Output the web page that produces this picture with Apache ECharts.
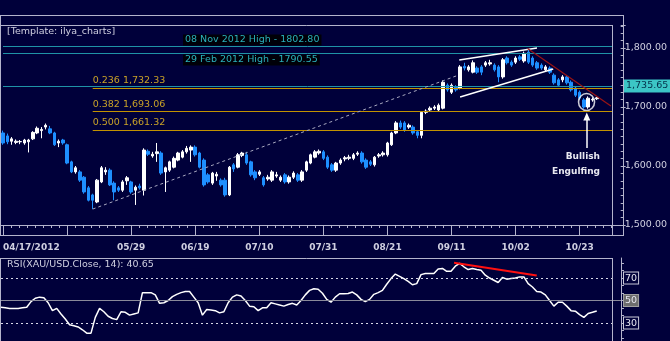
<!DOCTYPE html>
<html><head><meta charset="utf-8">
<script src="https://cdn.jsdelivr.net/npm/echarts@6/dist/echarts.min.js"></script>
<style>html,body{margin:0;padding:0;background:#00003a;overflow:hidden}#c{width:670px;height:341px;}</style>
</head><body><div id="c"></div>
<script>
// ---------- DATA ----------
const opens = [1656,1651,1642,1640,1641,1639,1641,1646,1656,1660,1666,1663,1656,1639,1644,1636,1607,1590,1590,1581,
1563,1551,1539,1573,1590,1593,1571,1563,1559,1575,1573,1559,1566,1559,1625,1617,1621,1622,1590,1593,
1598,1610,1615,1624,1627,1632,1622,1610,1585,1571,1583,1576,1576,1551,1602,1598,1618,1619,1607,1590,
1586,1580,1578,1576,1583,1576,1585,1573,1581,1585,1576,1593,1605,1615,1622,1624,1615,1602,1593,1605,
1612,1613,1613,1620,1622,1610,1607,1602,1617,1619,1619,1636,1656,1673,1673,1666,1666,1658,1652,1691,
1695,1698,1695,1698,1737,1725,1734,1732,1769,1763,1759,1766,1768,1771,1773,1771,1768,1751,1783,1776,
1776,1785,1778,1793,1783,1775,1771,1763,1766,1754,1746,1746,1751,1742,1732,1725,1712,1700,1712,1714];
const closes = [1639,1641,1646,1642,1641.5,1644,1644,1657,1664,1662,1669,1656,1636,1642,1639,1605,1590,1597,1576,1556,
1542,1542,1576,1597,1593,1568,1556,1559,1573,1580,1556,1564,1563,1627,1620,1620,1624,1588,1597,1607,
1613,1622,1624,1630,1632,1619,1598,1568,1573,1588,1586,1568,1551,1598,1595,1619,1622,1605,1585,1580,
1590,1568,1581,1590,1585,1581,1573,1581,1588,1576,1590,1607,1619,1624,1625,1613,1598,1593,1605,1610,
1614,1615,1619,1622,1607,1598,1603,1615,1619,1622,1639,1656,1673,1666,1661,1669,1656,1652,1691,1693,
1698,1700,1703,1742,1729,1737,1729,1768,1766,1768,1775,1759,1759,1775,1775,1763,1751,1780,1775,1771,
1783,1781,1791,1776,1771,1766,1766,1768,1759,1741,1737,1751,1741,1729,1720,1715,1700,1715,1713,1715.5];
const lows = [1636,1637,1636,1637,1637,1636,1623,1644,1654,1647,1662,1654,1634,1632,1636,1603,1588,1587,1573,1553,
1540,1527,1537,1571,1585,1566,1542,1556,1556,1568,1553,1534,1560,1550,1617,1614,1607,1585,1556,1590,
1596,1608,1613,1621,1607,1616,1596,1565,1570,1568,1575,1565,1548,1549,1590,1596,1615,1602,1582,1576,
1583,1565,1575,1573,1580,1573,1570,1570,1578,1573,1573,1590,1603,1613,1619,1610,1595,1590,1590,1602,
1608,1610,1610,1617,1604,1595,1600,1599,1614,1616,1616,1634,1654,1663,1658,1663,1653,1647,1647,1688,
1692,1695,1692,1696,1726,1722,1726,1730,1762,1760,1757,1756,1754,1768,1770,1760,1742,1748,1772,1768,
1773,1778,1775,1773,1768,1763,1763,1760,1756,1738,1734,1742,1738,1726,1717,1712,1697,1697,1709,1712];
const highs = [1660,1655,1649,1645,1644,1646,1646,1659,1667,1666,1672,1668,1658,1645,1646,1638,1609,1600,1593,1583,
1566,1553,1578,1600,1598,1596,1574,1566,1576,1583,1575,1567,1570,1630,1628,1624,1639,1625,1599,1609,
1616,1624,1627,1634,1635,1635,1624,1613,1588,1590,1590,1579,1580,1600,1605,1622,1624,1624,1609,1593,
1593,1583,1585,1593,1590,1584,1588,1584,1591,1588,1593,1609,1621,1627,1628,1627,1618,1605,1607,1613,
1617,1619,1622,1625,1625,1613,1610,1617,1622,1625,1641,1658,1676,1677,1676,1672,1669,1661,1693,1696,
1701,1703,1706,1745,1740,1740,1737,1771,1775,1771,1779,1769,1771,1778,1780,1774,1771,1783,1786,1779,
1786,1788,1794,1797,1786,1778,1774,1771,1769,1757,1749,1754,1754,1745,1735,1728,1715,1718,1716,1717];
const rsi = [44,43.5,43,43,43,43.5,44,49,52,53,52.5,48,41,43,38,33.5,28.5,27.5,26.5,24,
21,21,35,43,40,36,34,33,40,39.5,37,38,39,57,57,57,55,47.5,48,50,
53.5,55.5,57,58,58,53,48,37,42,41.5,41,39,40,48,53,55,54,50,45,44.5,
41,43.5,43.5,48,47,46,45,46.5,47.5,46,50,55,59,60.5,60,56.5,51,48.5,53,56,
56,56.2,57.5,55,51,49,51,55.5,57,59,64.5,69.5,73.5,71.5,69.5,67,64,65,73,74,
74,74,78,78.5,76,76,80.5,83,80,77.5,78.5,77.5,77,72.5,70,68,66,70.5,69,69.5,
70,71,71,65,62,58,57.5,55,50,45,48.5,48.5,45,41,40.5,37.5,35,38.5,39.5,40.65];
const tickLabelIndex = [0,30,45,60,75,90,105,120,135];
const tickLabels = ['04/17/2012','05/29','06/19','07/10','07/31','08/21','09/11','10/02','10/23'];
const highLevels = [1802.80, 1790.55];
const highTexts = ['08 Nov 2012 High - 1802.80','29 Feb 2012 High - 1790.55'];
const fibLevels = [1732.33, 1693.06, 1661.32];
const fibTexts = ['0.236 1,732.33','0.382 1,693.06','0.500 1,661.32'];
const lastPrice = 1735.65;

// weekday dates from 2012-04-17
const categories = [];
(function(){ const d = new Date(2012,3,17); while (categories.length < 143) { const w = d.getDay(); if (w !== 0 && w !== 6) { categories.push(String(d.getMonth()+1).padStart(2,'0')+'/'+String(d.getDate()).padStart(2,'0')); } d.setDate(d.getDate()+1); } })();

const candles = opens.map((o,i)=>[i, o, closes[i], lows[i], highs[i]]);
const rsiData = rsi.map((v,i)=>[i,v]);

// ---------- STYLE ----------
const BG = '#00003a', FRAME = '#b4b4cc', TXT = '#cfcfe0', TEAL = '#1f93a6', TEALTXT = '#2ab0bc', GOLD = '#c39200', GOLDTXT = '#c9a227';
const F = 'DejaVu Sans, Verdana, sans-serif';
const XMAX = 142.56;
const PMIN = 1500, PMAX = 1839, RMIN = 14, RMAX = 87.8;

const chart = echarts.init(document.getElementById('c'), null, {renderer:'canvas'});
const hl = (y, c, w) => ({yAxis: y, lineStyle:{color:c, width:w||1, type:'solid'}, label:{show:false}});

const mlData = [
  hl(highLevels[0], TEAL), hl(highLevels[1], TEAL),
  {yAxis: lastPrice, lineStyle:{color:TEAL, width:1, type:'solid'}, label:{show:true, position:'end', distance:11, formatter:'1,735.65', backgroundColor:'#3cc6c6', color:'#03304a', padding:[2,3,1,3], fontFamily:F, fontSize:9.5}}
];
fibLevels.forEach((v,k)=>{
  mlData.push([{coord:[21, v], lineStyle:{color:GOLD, width:1.2, type:'solid'}, label:{show:true, position:'insideStartTop', distance:[0,2], formatter:fibTexts[k], color:GOLDTXT, fontFamily:F, fontSize:9.5}}, {coord:[XMAX, v]}]);
});
mlData.push([{coord:[21,1527], lineStyle:{color:'#a8a8c0', width:1, type:[3,3]}, label:{show:false}}, {coord:[106.6,1754]}]);
mlData.push([{coord:[106.8,1779.7], lineStyle:{color:'#ffffff', width:1.5, type:'solid'}, label:{show:false}}, {coord:[125,1800]}]);
mlData.push([{coord:[107,1717], lineStyle:{color:'#ffffff', width:1.5, type:'solid'}, label:{show:false}}, {coord:[128.8,1764.4]}]);
mlData.push([{coord:[122.8,1799], lineStyle:{color:'#9a1414', width:1.2, type:'solid'}, label:{show:false}}, {coord:[142.3,1701.7]}]);

const option = {
  backgroundColor: BG,
  animation: false,
  grid: [
    {left:1, top:25, width:611, height:200},
    {left:1, top:258, width:611, height:83},
    {left:1, top:25, width:622, height:200},
    {left:1, top:258, width:620, height:83}
  ],
  xAxis: [
    {type:'value', gridIndex:0, min:0, max:XMAX, interval:15, position:'bottom',
     axisLine:{show:false, onZero:false}, splitLine:{show:false},
     axisTick:{show:true, length:10, lineStyle:{color:FRAME, width:1}},
     minorTick:{show:true, splitNumber:8, length:3, lineStyle:{color:FRAME, width:1}},
     axisLabel:{show:true, margin:18, color:TXT, fontFamily:F, fontSize:9, fontWeight:'bold', alignMinLabel:'left', showMaxLabel:false,
       formatter:(v)=>{ const k = tickLabelIndex.indexOf(Math.round(v)); return (k>=0 && Math.abs(v-Math.round(v))<1e-6) ? tickLabels[k] : ''; }}},
    {type:'value', gridIndex:1, min:0, max:XMAX, show:false},
    {type:'value', gridIndex:2, min:0, max:1, show:false},
    {type:'value', gridIndex:3, min:0, max:1, show:false}
  ],
  yAxis: [
    {type:'value', gridIndex:0, min:PMIN, max:PMAX, show:false},
    {type:'value', gridIndex:1, min:RMIN, max:RMAX, show:false},
    {type:'value', gridIndex:2, position:'right', min:PMIN, max:PMAX, interval:100,
     axisLine:{show:false, onZero:false}, splitLine:{show:false},
     axisTick:{show:true, length:5, lineStyle:{color:FRAME}},
     minorTick:{show:true, splitNumber:8, length:3, lineStyle:{color:FRAME}},
     axisLabel:{show:true, margin:4, showMaxLabel:false, color:TXT, fontFamily:F, fontSize:9.5,
       formatter:(v)=>v.toLocaleString('en-US',{minimumFractionDigits:2, maximumFractionDigits:2})}},
    {type:'value', gridIndex:3, position:'right', min:RMIN, max:RMAX,
     axisLine:{show:true, onZero:false, lineStyle:{color:FRAME}}, splitLine:{show:false},
     axisTick:{show:true, length:3, lineStyle:{color:FRAME}, customValues:[16.67,23.33,30,36.67,43.33,50,56.67,63.33,70,76.67,83.33]},
     axisLabel:{show:true, margin:3, customValues:[30,50,70], fontFamily:F, fontSize:9.5,
       formatter:(v)=> v===50 ? '{g|50}' : '{d|'+v+'}',
       rich:{ d:{color:'#e6e6f0', backgroundColor:BG, borderColor:'#c8c8d8', borderWidth:1, padding:[1,1,0,1], fontFamily:F, fontSize:9.5},
              g:{color:'#e6e6f0', backgroundColor:'#6e6e6e', borderColor:'#a0a0a0', borderWidth:1, padding:[1,1,0,1], fontFamily:F, fontSize:9.5} }}}
  ],
  series: [
    {type:'candlestick', xAxisIndex:0, yAxisIndex:0, data:candles, barWidth:3,
     itemStyle:{color:'#ffffff', color0:'#1e8fff', borderColor:'#ffffff', borderColor0:'#1e8fff', borderWidth:1},
     markLine:{silent:true, symbol:['none','none'], animation:false, data:mlData}},
    {type:'scatter', xAxisIndex:0, yAxisIndex:0, data:[[136.6,1708.5]], symbol:'circle', symbolSize:[16,17], silent:true,
     itemStyle:{color:'rgba(0,0,0,0)', borderColor:'#ffffff', borderWidth:1.6},
     markLine:{silent:true, animation:false, symbol:['none','triangle'], symbolSize:[7,8],
       lineStyle:{color:'#ffffff', width:1.5, type:'solid'}, label:{show:false},
       data:[[{coord:[136.65,1630.5]},{coord:[136.65,1684]}]]}},
    {type:'line', xAxisIndex:1, yAxisIndex:1, data:rsiData, showSymbol:false, silent:true,
     lineStyle:{color:'#ffffff', width:1.5},
     markLine:{silent:true, symbol:['none','none'], animation:false, label:{show:false},
       data:[
         {yAxis:70, lineStyle:{color:'#d8d8e8', width:1, type:[2,3]}},
         {yAxis:30, lineStyle:{color:'#d8d8e8', width:1, type:[2,3]}},
         [{coord:[105.7,83.5], lineStyle:{color:'#ff1010', width:2, type:'solid'}},{coord:[125,72.2]}]
       ]}},
    {type:'line', xAxisIndex:3, yAxisIndex:3, data:[], silent:true,
     markLine:{silent:true, symbol:['none','none'], animation:false, label:{show:false},
       data:[{yAxis:50, lineStyle:{color:'#8a8a9a', width:1.2, type:'solid'}}]}}
  ],
  graphic: [
    {type:'line', z:100, shape:{x1:0, y1:15.5, x2:624, y2:15.5}, style:{stroke:FRAME, lineWidth:1}},
    {type:'line', z:100, shape:{x1:0, y1:25.5, x2:612.5, y2:25.5}, style:{stroke:FRAME, lineWidth:1}},
    {type:'line', z:100, shape:{x1:0.5, y1:15, x2:0.5, y2:236}, style:{stroke:FRAME, lineWidth:1}},
    {type:'line', z:100, shape:{x1:612.5, y1:25, x2:612.5, y2:225}, style:{stroke:FRAME, lineWidth:1}},
    {type:'line', z:100, shape:{x1:623.5, y1:15, x2:623.5, y2:236}, style:{stroke:FRAME, lineWidth:1}},
    {type:'line', z:100, shape:{x1:0, y1:225.5, x2:624, y2:225.5}, style:{stroke:FRAME, lineWidth:1}},
    {type:'line', z:100, shape:{x1:0, y1:235.5, x2:624, y2:235.5}, style:{stroke:FRAME, lineWidth:1}},
    {type:'line', z:100, shape:{x1:0, y1:258.5, x2:612.5, y2:258.5}, style:{stroke:FRAME, lineWidth:1}},
    {type:'line', z:100, shape:{x1:0.5, y1:258, x2:0.5, y2:341}, style:{stroke:FRAME, lineWidth:1}},
    {type:'line', z:100, shape:{x1:612.5, y1:258, x2:612.5, y2:341}, style:{stroke:FRAME, lineWidth:1}},
    {type:'text', z:100, x:7, y:32, style:{text:'[Template: ilya_charts]', fill:TXT, font:'9.5px '+F, verticalAlign:'middle'}},
    {type:'text', z:100, x:183, y:40, style:{text:highTexts[0], fill:TEALTXT, font:'9.5px '+F, verticalAlign:'middle', backgroundColor:'#000008', padding:[1,2,0,2]}},
    {type:'text', z:100, x:183, y:60, style:{text:highTexts[1], fill:TEALTXT, font:'9.5px '+F, verticalAlign:'middle', backgroundColor:'#000008', padding:[1,2,0,2]}},
    {type:'text', z:100, x:600, y:157, style:{text:'Bullish', fill:'#e8e8f0', font:'bold 9px '+F, align:'right', verticalAlign:'middle'}},
    {type:'text', z:100, x:600, y:172, style:{text:'Engulfing', fill:'#e8e8f0', font:'bold 9px '+F, align:'right', verticalAlign:'middle'}},
    {type:'text', z:100, x:7, y:265, style:{text:'RSI(XAU/USD.Close, 14): 40.65', fill:TXT, font:'9.5px '+F, verticalAlign:'middle'}}
  ]
};
chart.setOption(option);
</script></body></html>
